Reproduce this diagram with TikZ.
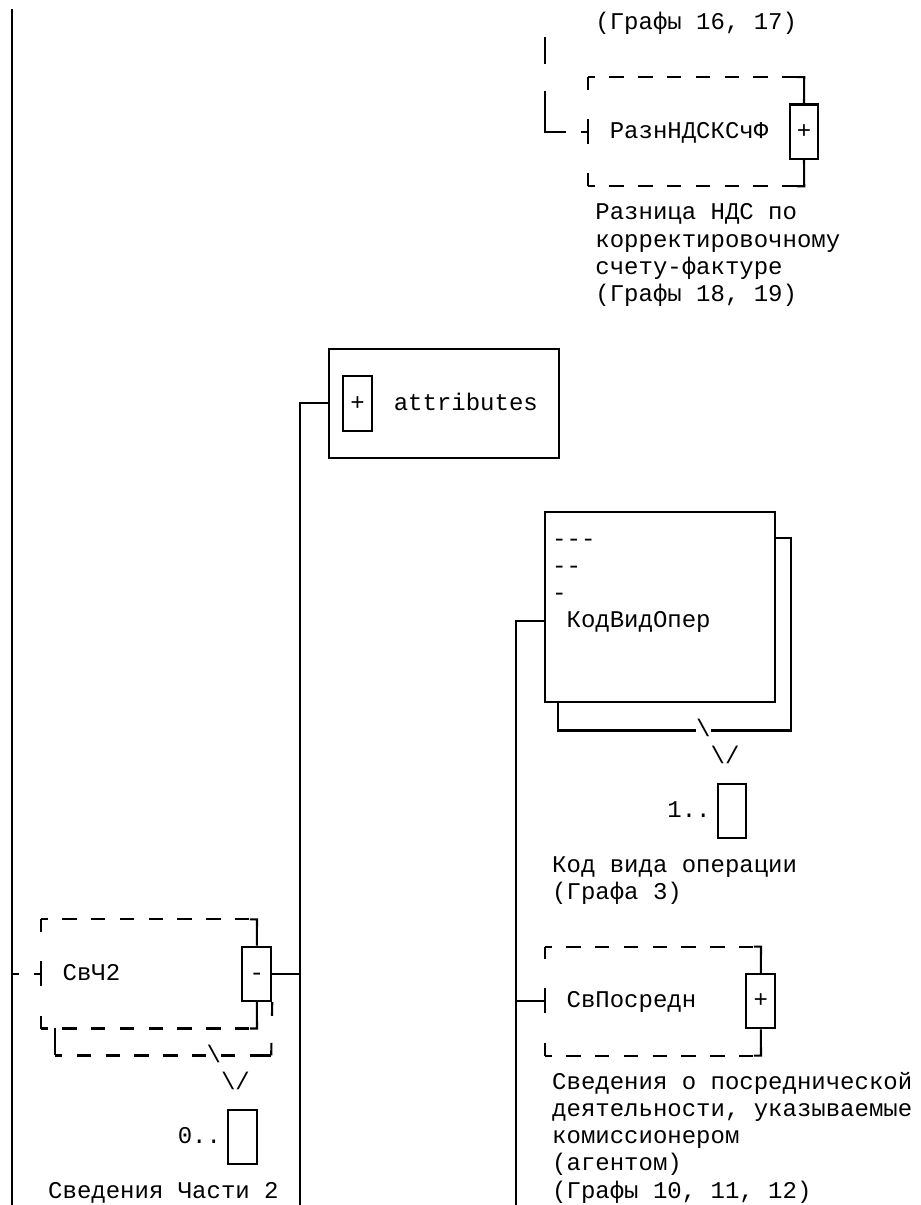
\documentclass[tikz,border=0pt]{standalone}
\usepackage{fontspec}
\newfontfamily\monofnt{Liberation Mono}
\newcommand{\mf}{\monofnt\fontsize{24pt}{27pt}\selectfont}
\begin{document}
\begin{tikzpicture}[x=14.4pt,y=-27.17pt,
  ln/.style={line width=2.1pt},
  txt/.style={font=\mf, inner sep=0pt, anchor=base west},
  bsl/.style={txt, fill=white},
  signbox/.style={draw, line width=2.1pt, font=\mf, inner sep=0pt, minimum width=28.8pt, minimum height=54.34pt, text height=13.6pt, text depth=0pt},
  occbox/.style={draw, line width=2.1pt, inner sep=0pt, minimum width=28.8pt, minimum height=54.34pt},
  optbox/.style={inner sep=0pt, minimum width=216pt, minimum height=108.68pt},
  reqbox/.style={draw, line width=2.1pt, inner sep=0pt, minimum width=230.4pt},
  hd/.style={ln, dash pattern=on 14.4pt off 14.4pt, dash phase=7.2pt},
  vd/.style={ln, dash pattern=on 25pt off 29.34pt, dash phase=12.5pt},
]
\useasboundingbox (-0.8333,-0.8465) rectangle (63.0556,43.5037);

% free ends of connectors
\coordinate (lefttop) at (0,-0.5);
\coordinate (leftbot) at (0,43.6);
\coordinate (razin) at (37,0.5);
\coordinate (c20bot) at (20,43.6);
\coordinate (c35bot) at (35,43.6);

% ---------------- RaznNDSKSchF (optional) ----------------
\node[txt] (toptxt) at (40.5,0.25) {(Графы 16, 17)};
\node[optbox] (raz) at (47.5,4) {};
\node[signbox] (razs) at (55,4) {+};
\node[txt] (razt) at (41.5,4.25) {РазнНДСКСчФ};
\draw[hd] (raz.north west) -- (raz.north east);
\draw[hd] (raz.south west) -- (raz.south east);
\draw[ln] ([xshift=-7.2pt]raz.north east) -- (raz.north east) -- (razs.north);
\draw[ln] (razs.south) -- (raz.south east) -- ([xshift=-7.2pt]raz.south east);
\draw[vd] (raz.north west) -- (raz.south west);
\draw[ln, dash pattern=on 27.17pt off 27.17pt on 62.355pt off 14.4pt on 7.2pt] (razin) |- (raz.west);
\node[txt] (razd1) at (40.5,7.25) {Разница НДС по};
\node[txt] (razd2) at (40.5,8.25) {корректировочному};
\node[txt] (razd3) at (40.5,9.25) {счету-фактуре};
\node[txt] (razd4) at (40.5,10.25) {(Графы 18, 19)};

% ---------------- attributes ----------------
\node[reqbox, minimum height=108.68pt] (attr) at (30,14) {};
\node[signbox] (attrs) at (24,14) {+};
\node[txt] (attrt) at (26.5,14.25) {attributes};
\draw[ln] (attr.west) -| (c20bot);

% ---------------- KodVidOper ----------------
\node[reqbox, minimum height=190.19pt] (kod) at (45,21.5) {};
\draw[ln] ([yshift=-27.17pt]kod.north east) -- ++(1,0) |- ([xshift=14.4pt,yshift=-27.17pt]kod.south west) -- ([xshift=14.4pt]kod.south west);
\node[txt] (kodm3) at (37.5,19.25) {---};
\node[txt] (kodm2) at (37.5,20.25) {--};
\node[txt] (kodm1) at (37.5,21.25) {-};
\node[txt] (kodt) at (38.5,22.25) {КодВидОпер};
\draw[ln] ([yshift=-13.585pt]kod.west) -| (c35bot);
\node[bsl] (kodbs) at (47.5,26.25) {\textbackslash};
\node[txt] (kodv) at (48.5,27.25) {\textbackslash/};
\node[txt] (kodocc) at (45.5,29.25) {1..};
\node[occbox] (kodob) at (50,29) {};
\node[txt] (kodd1) at (37.5,31.25) {Код вида операции};
\node[txt] (kodd2) at (37.5,32.25) {(Графа 3)};

% ---------------- SvCh2 (optional, multiple) ----------------
\node[optbox] (svc) at (9.5,35) {};
\node[signbox] (svcm) at (17,35) {-};
\node[txt] (svct) at (3.5,35.25) {СвЧ2};
\draw[hd] (svc.north west) -- (svc.north east);
\draw[hd] (svc.south west) -- (svc.south east);
\draw[ln] ([xshift=-7.2pt]svc.north east) -- (svc.north east) -- (svcm.north);
\draw[ln] (svcm.south) -- (svc.south east) -- ([xshift=-7.2pt]svc.south east);
\draw[vd] (svc.north west) -- (svc.south west);
% shadow
\draw[ln, dash pattern=on 13.585pt off 27.17pt] (svcm.south east) -- (18,38);
\draw[hd] (3,38) -- (18,38);
\draw[ln] (17.5,38) -- (18,38);
\draw[ln] (3,37) -- (3,38);
\node[bsl] (svcbs) at (13.5,38.25) {\textbackslash};
\node[txt] (svcv) at (14.5,39.25) {\textbackslash/};
\node[txt] (svcocc) at (11.5,41.25) {0..};
\node[occbox] (svcob) at (16,41) {};
\node[txt] (svcd) at (2.5,43.25) {Сведения Части 2};
\draw[ln, dash pattern=on 7.2pt off 14.4pt on 7.2pt] (svc.west -| lefttop) -- (svc.west);
\draw[ln] (svcm.east) -- (svcm.east -| c20bot);

% ---------------- SvPosredn (optional) ----------------
\node[optbox] (svp) at (44.5,36) {};
\node[signbox] (svps) at (52,36) {+};
\node[txt] (svpt) at (38.5,36.25) {СвПосредн};
\draw[hd] (svp.north west) -- (svp.north east);
\draw[hd] (svp.south west) -- (svp.south east);
\draw[ln] ([xshift=-7.2pt]svp.north east) -- (svp.north east) -- (svps.north);
\draw[ln] (svps.south) -- (svp.south east) -- ([xshift=-7.2pt]svp.south east);
\draw[vd] (svp.north west) -- (svp.south west);
\draw[ln] (svp.west) -- (svp.west -| c35bot);
\node[txt] (svpd1) at (37.5,39.25) {Сведения о посреднической};
\node[txt] (svpd2) at (37.5,40.25) {деятельности, указываемые};
\node[txt] (svpd3) at (37.5,41.25) {комиссионером};
\node[txt] (svpd4) at (37.5,42.25) {(агентом)};
\node[txt] (svpd5) at (37.5,43.25) {(Графы 10, 11, 12)};

% left main line
\draw[ln] (lefttop) -- (leftbot);
\end{tikzpicture}
\end{document}
